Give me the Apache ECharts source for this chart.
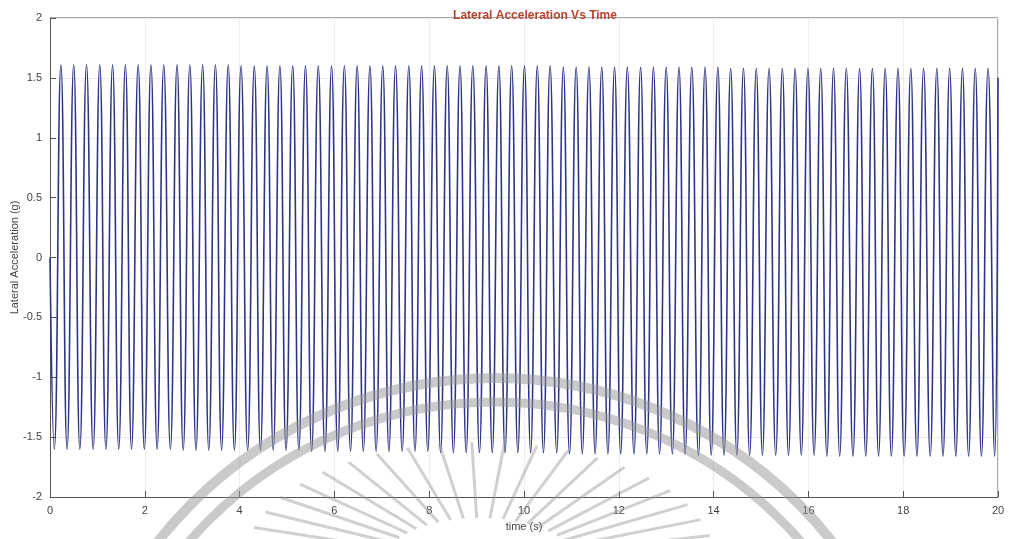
<!DOCTYPE html>
<html>
<head>
<meta charset="utf-8">
<title>Lateral Acceleration Vs Time</title>
<script src="https://cdn.jsdelivr.net/npm/echarts@6/dist/echarts.min.js"></script>
<style>
  html, body { margin: 0; padding: 0; background: #fff; }
  #chart { width: 1010px; height: 539px; }
</style>
</head>
<body>
<div id="chart"></div>
<script>
// extrema (time in s, acceleration in g)
var startPoint = [0, 0];
var endPoint = [20, 1.5];

var peakTimes = [0.23, 0.50, 0.77, 1.05, 1.32, 1.59, 1.86, 2.13, 2.40, 2.68,
  2.95, 3.22, 3.49, 3.76, 4.03, 4.31, 4.58, 4.85, 5.12, 5.39,
  5.66, 5.94, 6.21, 6.48, 6.75, 7.02, 7.29, 7.57, 7.84, 8.11,
  8.38, 8.65, 8.92, 9.20, 9.47, 9.74, 10.01, 10.28, 10.55, 10.83,
  11.10, 11.37, 11.64, 11.91, 12.18, 12.46, 12.73, 13.00, 13.27, 13.54,
  13.82, 14.09, 14.36, 14.63, 14.90, 15.17, 15.45, 15.72, 15.99, 16.26,
  16.53, 16.80, 17.08, 17.35, 17.62, 17.89, 18.16, 18.43, 18.71, 18.98,
  19.25, 19.52, 19.79];
var peakValues = [1.61, 1.61, 1.61, 1.61, 1.61, 1.61, 1.61, 1.61, 1.61, 1.61,
  1.61, 1.61, 1.61, 1.61, 1.60, 1.60, 1.60, 1.60, 1.60, 1.60,
  1.60, 1.60, 1.60, 1.60, 1.60, 1.60, 1.60, 1.60, 1.60, 1.60,
  1.60, 1.60, 1.60, 1.60, 1.60, 1.60, 1.60, 1.60, 1.60, 1.59,
  1.59, 1.59, 1.59, 1.59, 1.59, 1.59, 1.59, 1.59, 1.59, 1.59,
  1.59, 1.59, 1.58, 1.58, 1.58, 1.58, 1.58, 1.58, 1.58, 1.58,
  1.58, 1.58, 1.58, 1.58, 1.58, 1.58, 1.58, 1.58, 1.58, 1.58,
  1.58, 1.58, 1.58];

var troughTimes = [0.09, 0.36, 0.63, 0.91, 1.18, 1.45, 1.72, 1.99, 2.26, 2.54,
  2.81, 3.08, 3.35, 3.62, 3.89, 4.17, 4.44, 4.71, 4.98, 5.25,
  5.52, 5.80, 6.07, 6.34, 6.61, 6.88, 7.15, 7.43, 7.70, 7.97,
  8.24, 8.51, 8.78, 9.06, 9.33, 9.60, 9.87, 10.14, 10.41, 10.69,
  10.96, 11.23, 11.50, 11.77, 12.04, 12.32, 12.59, 12.86, 13.13, 13.40,
  13.68, 13.95, 14.22, 14.49, 14.76, 15.03, 15.31, 15.58, 15.85, 16.12,
  16.39, 16.66, 16.94, 17.21, 17.48, 17.75, 18.02, 18.29, 18.57, 18.84,
  19.11, 19.38, 19.65, 19.93];
var troughValues = [-1.60, -1.60, -1.60, -1.60, -1.60, -1.60, -1.60, -1.60, -1.60, -1.60,
  -1.61, -1.61, -1.61, -1.61, -1.61, -1.61, -1.61, -1.61, -1.61, -1.61,
  -1.62, -1.62, -1.62, -1.62, -1.62, -1.62, -1.62, -1.62, -1.62, -1.62,
  -1.63, -1.63, -1.63, -1.63, -1.63, -1.63, -1.63, -1.63, -1.63, -1.63,
  -1.64, -1.64, -1.64, -1.64, -1.64, -1.64, -1.64, -1.64, -1.64, -1.64,
  -1.65, -1.65, -1.65, -1.65, -1.65, -1.65, -1.65, -1.65, -1.65, -1.65,
  -1.66, -1.66, -1.66, -1.66, -1.66, -1.66, -1.66, -1.66, -1.66, -1.66,
  -1.66, -1.66, -1.66, -1.66];

var xTicks = [0, 2, 4, 6, 8, 10, 12, 14, 16, 18, 20];
var yTicks = [-2, -1.5, -1, -0.5, 0, 0.5, 1, 1.5, 2];

var points = [startPoint];
for (var i = 0; i < peakTimes.length; i++) points.push([peakTimes[i], peakValues[i]]);
for (var j = 0; j < troughTimes.length; j++) points.push([troughTimes[j], troughValues[j]]);
points.push(endPoint);
points.sort(function (a, b) { return a[0] - b[0]; });

var chartDom = document.getElementById('chart');
var chart = echarts.init(chartDom, null, {renderer: 'canvas'});

var axisFont = {fontFamily: 'Liberation Sans', fontSize: 11, color: '#444'};
var wmColor = 'rgba(150,150,150,0.5)';

// watermark left on the scan: two arcs and a fan of rays
var watermark = [
  {type: 'arc', z: 100, silent: true, shape: {cx: 495, cy: 807, r: 429, startAngle: Math.PI, endAngle: 2 * Math.PI},
    style: {stroke: wmColor, lineWidth: 10, fill: null}},
  {type: 'arc', z: 100, silent: true, shape: {cx: 495, cy: 807, r: 405, startAngle: Math.PI, endAngle: 2 * Math.PI},
    style: {stroke: wmColor, lineWidth: 9, fill: null}}
];
for (var a = 12; a <= 168; a += 8) {
  var rad = a * Math.PI / 180;
  watermark.push({
    type: 'line', z: 100, silent: true,
    shape: {
      x1: 480 + 95 * Math.cos(rad), y1: 560 - 42 * Math.sin(rad),
      x2: 480 + 235 * Math.cos(rad), y2: 560 - 118 * Math.sin(rad)
    },
    style: {stroke: 'rgba(150,150,150,0.45)', lineWidth: 3}
  });
}

var option = {
  animation: false,
  backgroundColor: '#fff',
  title: {
    text: 'Lateral Acceleration Vs Time',
    left: 530,
    textAlign: 'center',
    top: 5,
    textStyle: {fontFamily: 'Liberation Sans', fontSize: 12, fontWeight: 'bold', color: '#b8442f'}
  },
  grid: {left: 50, right: 12, top: 18, bottom: 42, containLabel: false, outerBoundsMode: 'none'},
  xAxis: {
    type: 'value',
    min: xTicks[0],
    max: xTicks[xTicks.length - 1],
    interval: 2,
    name: 'time (s)',
    nameLocation: 'middle',
    nameGap: 24,
    nameMoveOverlap: false,
    nameTextStyle: {fontFamily: 'Liberation Sans', fontSize: 11, color: '#444'},
    axisLine: {onZero: false, lineStyle: {color: '#555', width: 1}},
    axisTick: {inside: true, length: 6, lineStyle: {color: '#555'}},
    axisLabel: axisFont,
    splitLine: {show: true, lineStyle: {color: '#ececec', width: 1}}
  },
  yAxis: {
    type: 'value',
    min: yTicks[0],
    max: yTicks[yTicks.length - 1],
    interval: 0.5,
    name: 'Lateral Acceleration (g)',
    nameLocation: 'middle',
    nameGap: 30,
    nameMoveOverlap: false,
    nameTextStyle: {fontFamily: 'Liberation Sans', fontSize: 11, color: '#444'},
    axisLine: {show: true, onZero: false, lineStyle: {color: '#555', width: 1}},
    axisTick: {show: true, inside: true, length: 6, lineStyle: {color: '#555'}},
    axisLabel: axisFont,
    splitLine: {show: true, lineStyle: {color: '#ececec', width: 1}}
  },
  graphic: [
    // box top and right edges (MATLAB style)
    {type: 'line', shape: {x1: 50, y1: 18, x2: 998, y2: 18}, style: {stroke: '#555', lineWidth: 1}},
    {type: 'line', shape: {x1: 998, y1: 18, x2: 998, y2: 497}, style: {stroke: '#555', lineWidth: 1}}
  ].concat(watermark),
  series: [{
    name: 'Lateral Acceleration',
    type: 'line',
    data: points,
    showSymbol: false,
    smooth: 0.5,
    lineStyle: {color: '#2e3585', width: 1.6},
    silent: true
  }]
};

option && chart.setOption(option);
</script>
</body>
</html>
